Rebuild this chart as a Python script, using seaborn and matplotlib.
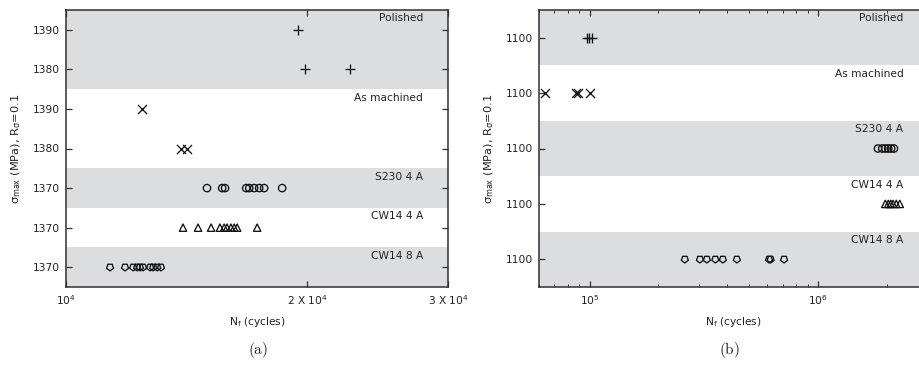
import matplotlib
matplotlib.use("Agg")
import numpy as np
import pandas as pd
import matplotlib.pyplot as plt
import seaborn as sns
from matplotlib.ticker import FixedLocator, FixedFormatter, NullLocator, LogLocator, NullFormatter

# ---- data -------------------------------------------------------------
groups = ["Polished", "As machined", "S230 4 A", "CW14 4 A", "CW14 8 A"]
group_markers = ["+", "x", "o", "^", (5, 0, 180)]

# (a) cycles to failure at each maximum stress
a_polished_stress = [1390, 1380, 1380]
a_polished_cycles = [19500, 19900, 22600]
a_machined_stress = [1390, 1380, 1380]
a_machined_cycles = [12450, 13900, 14150]
a_s230_stress = [1370] * 9
a_s230_cycles = [15000, 15670, 15800, 16790, 16940, 17180, 17430, 17680, 18620]
a_cw4_stress = [1370] * 10
a_cw4_cycles = [14000, 14620, 15180, 15570, 15760, 15890, 16070, 16220, 16360, 17330]
a_cw8_stress = [1370] * 10
a_cw8_cycles = [11350, 11850, 12130, 12270, 12370, 12480, 12740, 12850, 13000, 13140]

# (b)
b_polished_cycles = [97000, 99500, 102000]
b_machined_cycles = [64000, 87500, 88500, 100000]
b_s230_cycles = [1.83e6, 1.91e6, 1.97e6, 2.03e6, 2.09e6, 2.15e6]
b_cw4_cycles = [1.97e6, 2.03e6, 2.08e6, 2.13e6, 2.20e6, 2.28e6]
b_cw8_cycles = [2.61e5, 3.04e5, 3.26e5, 3.55e5, 3.83e5, 4.41e5, 6.10e5, 6.20e5, 7.10e5]
b_stress = 1100

a_x_ticks = [1e4, 2e4, 3e4]
a_x_ticklabels = [r"10$^4$", r"2 X 10$^4$", r"3 X 10$^4$"]
a_xlim = (1e4, 3e4)
b_xlim = (6e4, 3e6)

panel_a = {
    "Polished": (a_polished_stress, a_polished_cycles),
    "As machined": (a_machined_stress, a_machined_cycles),
    "S230 4 A": (a_s230_stress, a_s230_cycles),
    "CW14 4 A": (a_cw4_stress, a_cw4_cycles),
    "CW14 8 A": (a_cw8_stress, a_cw8_cycles),
}
panel_b = {
    "Polished": ([b_stress] * len(b_polished_cycles), b_polished_cycles),
    "As machined": ([b_stress] * len(b_machined_cycles), b_machined_cycles),
    "S230 4 A": ([b_stress] * len(b_s230_cycles), b_s230_cycles),
    "CW14 4 A": ([b_stress] * len(b_cw4_cycles), b_cw4_cycles),
    "CW14 8 A": ([b_stress] * len(b_cw8_cycles), b_cw8_cycles),
}

# ---- style --------------------------------------------------------------
sns.set_theme(style="ticks")
plt.rcParams["font.family"] = ["DejaVu Sans"]
plt.rcParams["font.size"] = 7.5
BAND_GREY = "#dcdddf"
SPINE = "#303030"
TEXT = "#222222"


def build_frame(panel):
    """Stack one band per group (top to bottom); one row per stress level."""
    rows, ticks, labels, bands = [], [], [], []
    base = 0.0
    for g in reversed(groups):
        stress, cycles = panel[g]
        levels = sorted(set(stress))
        for s, n in zip(stress, cycles):
            rows.append({"group": g, "stress": s, "cycles": n,
                         "ypos": base + levels.index(s) + 0.5})
        for i, lv in enumerate(levels):
            ticks.append(base + i + 0.5)
            labels.append(str(lv))
        bands.append((g, base, base + len(levels)))
        base += len(levels)
    return pd.DataFrame(rows), ticks, labels, bands, base


def draw_panel(ax, panel, xlim, label_offset):
    df, ticks, labels, bands, top = build_frame(panel)
    for g, lo, hi in bands:
        if groups.index(g) % 2 == 0:
            ax.axhspan(lo, hi, color=BAND_GREY, lw=0, zorder=0)
        ax.annotate(g, xy=(1, hi), xycoords=ax.get_yaxis_transform(),
                    xytext=(-label_offset, -2.5), textcoords="offset points",
                    ha="right", va="top", color=TEXT, fontsize=7.7)
    for g, m in zip(groups, group_markers):
        sub = df[df["group"] == g]
        if g in ("Polished", "As machined"):
            sns.scatterplot(data=sub, x="cycles", y="ypos", marker=m, s=42,
                            color="#111111", linewidth=0.95, ax=ax, zorder=3)
        else:
            sns.scatterplot(data=sub, x="cycles", y="ypos", marker=m, s=28,
                            color="#111111", facecolor="none", edgecolor="#111111",
                            linewidth=0.95, ax=ax, zorder=3)
    ax.set_xscale("log")
    ax.set_xlim(*xlim)
    ax.set_ylim(0, top)
    ax.yaxis.set_major_locator(FixedLocator(ticks))
    ax.yaxis.set_major_formatter(FixedFormatter(labels))
    ax.yaxis.set_minor_locator(NullLocator())
    ax.set_facecolor("white")
    for sp in ax.spines.values():
        sp.set_color(SPINE)
        sp.set_linewidth(1.1)
    ax.tick_params(which="both", direction="in", top=True, right=True,
                   colors=SPINE, labelcolor=TEXT, labelsize=7.7)
    ax.tick_params(which="major", length=4, width=0.9, pad=4.5)
    ax.tick_params(which="minor", length=2.5, width=0.7)
    ax.set_xlabel("N$_\\mathregular{f}$ (cycles)", fontsize=7.7, color=TEXT, labelpad=6)
    ax.set_ylabel("σ$_\\mathregular{max}$ (MPa), R$_\\mathregular{σ}$=0.1",
                  fontsize=8.2, color=TEXT, labelpad=7)


W, H = 919, 366
fig = plt.figure(figsize=(W / 100, H / 100), dpi=100)
ax_a = fig.add_axes([66 / W, 79 / H, 382 / W, 277 / H])
ax_b = fig.add_axes([539 / W, 79 / H, 388 / W, 277 / H])

draw_panel(ax_a, panel_a, a_xlim, 18)
ax_a.xaxis.set_major_locator(FixedLocator(a_x_ticks))
ax_a.xaxis.set_major_formatter(FixedFormatter(a_x_ticklabels))
ax_a.xaxis.set_minor_locator(NullLocator())

draw_panel(ax_b, panel_b, b_xlim, 17)
ax_b.xaxis.set_major_locator(LogLocator(base=10))
ax_b.xaxis.set_minor_locator(LogLocator(base=10, subs=np.arange(2, 10)))
ax_b.xaxis.set_minor_formatter(NullFormatter())

fig.text(258 / W, 1 - 350 / H, r"$\mathrm{(a)}$", math_fontfamily="cm",
         fontsize=11, ha="center", va="center", color=TEXT)
fig.text(729 / W, 1 - 350 / H, r"$\mathrm{(b)}$", math_fontfamily="cm",
         fontsize=11, ha="center", va="center", color=TEXT)

fig.savefig("out.png", dpi=100, facecolor="white")
